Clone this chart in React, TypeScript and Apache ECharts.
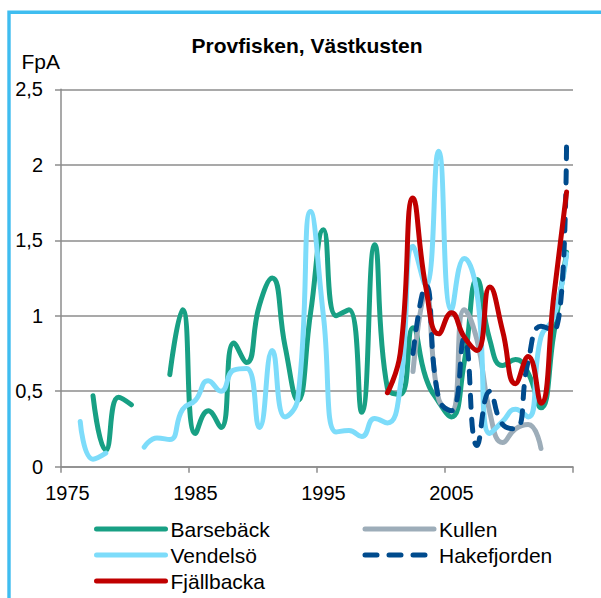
import React, { useEffect, useRef } from 'react';
import * as echarts from 'echarts';

const years = [
  '1975', '1976', '1977', '1978', '1979', '1980', '1981', '1982', '1983', '1984',
  '1985', '1986', '1987', '1988', '1989', '1990', '1991', '1992', '1993', '1994',
  '1995', '1996', '1997', '1998', '1999', '2000', '2001', '2002', '2003', '2004',
  '2005', '2006', '2007', '2008', '2009', '2010', '2011', '2012', '2013', '2014',
];

const barseback = [
  null, null, 0.47, 0.11, 0.46, 0.41, null, null, 0.61, 1.04,
  0.22, 0.37, 0.26, 0.82, 0.69, 1.07, 1.25, 0.8, 0.44, 1.02,
  1.57, 1.0, 1.04, 0.36, 1.47, 0.52, 0.48, 0.92, 0.59, 0.43,
  0.33, 0.69, 1.24, 0.84, 0.67, 0.71, 0.62, 0.39, 0.88, 1.42,
];

const vendelso = [
  null, 0.3, 0.05, 0.09, null, null, 0.13, 0.19, 0.18, 0.38,
  0.44, 0.57, 0.5, 0.64, 0.65, 0.26, 0.77, 0.33, 0.45, 1.69,
  1.0, 0.23, 0.24, 0.2, 0.32, 0.29, 0.53, 1.46, 1.2, 2.09,
  1.04, 1.38, 1.15, 0.22, 0.3, 0.38, 0.33, 0.86, 0.99, 1.41,
];

const fjallbacka = [
  null, null, null, null, null, null, null, null, null, null,
  null, null, null, null, null, null, null, null, null, null,
  null, null, null, null, null, 0.49, 0.75, 1.78, 1.19, 0.88,
  1.02, 0.86, 0.77, 1.19, 0.9, 0.55, 0.73, 0.42, 1.13, 1.82,
];

const kullen = [
  null, null, null, null, null, null, null, null, null, null,
  null, null, null, null, null, null, null, null, null, null,
  null, null, null, null, null, null, null, 0.63, 1.15, 0.45,
  0.37, 1.04, 0.84, 0.36, 0.16, 0.25, 0.28, 0.12, null, null,
];

const hakefjorden = [
  null, null, null, null, null, null, null, null, null, null,
  null, null, null, null, null, null, null, null, null, null,
  null, null, null, null, null, null, null, 0.75, 1.2, 0.45,
  0.37, 0.85, 0.14, 0.5, 0.28, 0.25, 0.7, 0.93, 0.9, 2.18,
];

const FONT = '"Liberation Sans", Arial, sans-serif';
const GRID_COLOR = '#8c8c8c';

const C_GREEN = '#18a084';
const C_LIGHT = '#7ddcfa';
const C_RED = '#c00000';
const C_GRAY = '#9dadb9';
const C_DARK = '#004b8d';

function lineSeries(name: string, data: (number | null)[], color: string, dashed = false) {
  return {
    name,
    type: 'line',
    data,
    smooth: 0.5,
    symbol: 'none',
    connectNulls: false,
    itemStyle: { color },
    lineStyle: {
      color,
      width: 5,
      cap: 'round',
      join: 'round',
      type: dashed ? [12, 12] : 'solid',
    },
    emphasis: { disabled: true },
  };
}

const legendBase = {
  orient: 'vertical',
  top: 518.5,
  padding: 0,
  itemWidth: 69,
  itemHeight: 14,
  itemGap: 5,
  selectedMode: false,
  textStyle: { fontSize: 21, lineHeight: 21, color: '#000', fontFamily: FONT },
  lineStyle: { width: 5 },
  itemStyle: { opacity: 0 },
};

export default function App() {
  const ref = useRef<HTMLDivElement>(null);

  useEffect(() => {
    if (!ref.current) return;
    const chart = echarts.init(ref.current, undefined, { renderer: 'svg' });
    const option = {
      animation: false,
      backgroundColor: '#ffffff',
      grid: {
        left: 61,
        right: 28,
        top: 89.3,
        bottom: 131.3,
        containLabel: false,
        outerBoundsMode: 'none',
      },
      xAxis: {
        type: 'category',
        data: years,
        boundaryGap: true,
        axisLine: { show: true, lineStyle: { color: GRID_COLOR, width: 1.5 } },
        axisTick: {
          show: true,
          interval: 9,
          length: 6,
          alignWithLabel: false,
          lineStyle: { color: GRID_COLOR, width: 1.5 },
        },
        axisLabel: {
          interval: 9,
          margin: 16,
          fontSize: 20,
          color: '#000',
          fontFamily: FONT,
        },
        splitLine: { show: false },
      },
      yAxis: {
        type: 'value',
        min: 0,
        max: 2.5,
        interval: 0.5,
        axisLine: { show: true, lineStyle: { color: GRID_COLOR, width: 1.5 } },
        axisTick: { show: true, length: 6, lineStyle: { color: GRID_COLOR, width: 1.5 } },
        axisLabel: {
          margin: 18,
          fontSize: 20,
          color: '#000',
          fontFamily: FONT,
          formatter: (v: number) => String(v).replace('.', ','),
        },
        splitLine: { show: true, lineStyle: { color: GRID_COLOR, width: 1.5 } },
      },
      legend: [
        { ...legendBase, left: 94, data: ['Barsebäck', 'Vendelsö', 'Fjällbacka'] },
        { ...legendBase, left: 362.5, data: ['Kullen', 'Hakefjorden'] },
      ],
      series: [
        lineSeries('Barsebäck', barseback, C_GREEN),
        lineSeries('Kullen', kullen, C_GRAY),
        lineSeries('Vendelsö', vendelso, C_LIGHT),
        lineSeries('Hakefjorden', hakefjorden, C_DARK, true),
        lineSeries('Fjällbacka', fjallbacka, C_RED),
      ],
      graphic: [
        {
          type: 'rect',
          silent: true,
          shape: { x: 9, y: 12.3, width: 700, height: 700 },
          style: { fill: 'none', stroke: '#3fbdf0', lineWidth: 3.4 },
        },
        {
          type: 'text',
          silent: true,
          x: 307,
          y: 45,
          style: {
            text: 'Provfisken, Västkusten',
            fill: '#000',
            font: `bold 21px ${FONT}`,
            align: 'center',
            verticalAlign: 'middle',
          },
        },
        {
          type: 'text',
          silent: true,
          x: 21.5,
          y: 61,
          style: {
            text: 'FpA',
            fill: '#000',
            font: `21px ${FONT}`,
            align: 'left',
            verticalAlign: 'middle',
          },
        },
      ],
    };
    chart.setOption(option as any);
    return () => chart.dispose();
  }, []);

  return (
    <div
      ref={ref}
      style={{ position: 'fixed', left: 0, top: 0, width: 601, height: 598 }}
    />
  );
}
